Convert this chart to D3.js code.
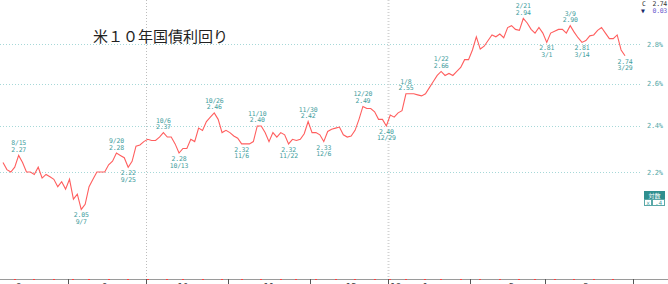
<!DOCTYPE html>
<html>
<head>
<meta charset="utf-8">
<script src="https://cdn.jsdelivr.net/npm/d3@7"></script>
<style>
  body { margin: 0; background: #fff; }
  svg { display: block; }
</style>
</head>
<body>
<div id="chart"></div>
<script>
// trading days shown on the chart (Aug 2017 - Mar 2018)
var dates = [
  "2017-08-09","2017-08-10","2017-08-11","2017-08-14","2017-08-15","2017-08-16","2017-08-17","2017-08-18",
  "2017-08-21","2017-08-22","2017-08-23","2017-08-24","2017-08-25","2017-08-28","2017-08-29","2017-08-30","2017-08-31",
  "2017-09-01","2017-09-05","2017-09-06","2017-09-07","2017-09-08","2017-09-11","2017-09-12","2017-09-13","2017-09-14",
  "2017-09-15","2017-09-18","2017-09-19","2017-09-20","2017-09-21","2017-09-22","2017-09-25","2017-09-26","2017-09-27",
  "2017-09-28","2017-09-29",
  "2017-10-02","2017-10-03","2017-10-04","2017-10-05","2017-10-06","2017-10-10","2017-10-11","2017-10-12","2017-10-13",
  "2017-10-16","2017-10-17","2017-10-18","2017-10-19","2017-10-20","2017-10-23","2017-10-24","2017-10-25","2017-10-26",
  "2017-10-27","2017-10-30","2017-10-31",
  "2017-11-01","2017-11-02","2017-11-03","2017-11-06","2017-11-07","2017-11-08","2017-11-09","2017-11-10","2017-11-13",
  "2017-11-14","2017-11-15","2017-11-16","2017-11-17","2017-11-20","2017-11-21","2017-11-22","2017-11-24","2017-11-27",
  "2017-11-28","2017-11-29","2017-11-30",
  "2017-12-01","2017-12-04","2017-12-05","2017-12-06","2017-12-07","2017-12-08","2017-12-11","2017-12-12","2017-12-13",
  "2017-12-14","2017-12-15","2017-12-18","2017-12-19","2017-12-20","2017-12-21","2017-12-22","2017-12-26","2017-12-27",
  "2017-12-28","2017-12-29",
  "2018-01-02","2018-01-03","2018-01-04","2018-01-05","2018-01-08","2018-01-09","2018-01-10","2018-01-11","2018-01-12",
  "2018-01-16","2018-01-17","2018-01-18","2018-01-19","2018-01-22","2018-01-23","2018-01-24","2018-01-25","2018-01-26",
  "2018-01-29","2018-01-30","2018-01-31",
  "2018-02-01","2018-02-02","2018-02-05","2018-02-06","2018-02-07","2018-02-08","2018-02-09","2018-02-12","2018-02-13",
  "2018-02-14","2018-02-15","2018-02-16","2018-02-20","2018-02-21","2018-02-22","2018-02-23","2018-02-26","2018-02-27",
  "2018-02-28",
  "2018-03-01","2018-03-02","2018-03-05","2018-03-06","2018-03-07","2018-03-08","2018-03-09","2018-03-12","2018-03-13",
  "2018-03-14","2018-03-15","2018-03-16","2018-03-19","2018-03-20","2018-03-21","2018-03-22","2018-03-23","2018-03-26",
  "2018-03-27","2018-03-28","2018-03-29"
];

// US 10y yield (%)
var yields = [
  2.24, 2.21, 2.20, 2.22, 2.27, 2.24, 2.20, 2.20, 2.19, 2.22, 2.175, 2.19, 2.18, 2.17, 2.14, 2.16, 2.13,
  2.17, 2.09, 2.11, 2.05, 2.07, 2.14, 2.17, 2.20, 2.20, 2.20, 2.23, 2.245, 2.28, 2.27, 2.26, 2.22, 2.245, 2.31, 2.315, 2.33,
  2.34, 2.335, 2.335, 2.35, 2.37, 2.35, 2.35, 2.32, 2.28, 2.30, 2.30, 2.34, 2.33, 2.39, 2.38, 2.42, 2.44, 2.46, 2.43, 2.37, 2.38,
  2.37, 2.355, 2.345, 2.32, 2.32, 2.32, 2.33, 2.40, 2.40, 2.37, 2.33, 2.37, 2.35, 2.37, 2.36, 2.32, 2.34, 2.335, 2.34, 2.365, 2.42,
  2.37, 2.37, 2.36, 2.33, 2.375, 2.385, 2.39, 2.395, 2.36, 2.35, 2.355, 2.38, 2.43, 2.49, 2.48, 2.48, 2.465, 2.43, 2.43, 2.40,
  2.45, 2.44, 2.46, 2.47, 2.55, 2.55, 2.55, 2.545, 2.54, 2.55, 2.58, 2.61, 2.64, 2.66, 2.64, 2.65, 2.64, 2.66, 2.68, 2.72, 2.72,
  2.77, 2.84, 2.775, 2.79, 2.82, 2.85, 2.84, 2.855, 2.835, 2.89, 2.90, 2.88, 2.875, 2.94, 2.915, 2.88, 2.86, 2.89, 2.86,
  2.81, 2.86, 2.87, 2.88, 2.88, 2.86, 2.90, 2.865, 2.835, 2.81, 2.82, 2.845, 2.85, 2.875, 2.89, 2.86, 2.83, 2.83, 2.85, 2.77, 2.74
];

var yTicks = [2.2, 2.4, 2.6, 2.8];

// highs and lows annotated on the chart
var peakDates = ["2017-08-15", "2017-09-20", "2017-10-06", "2017-10-26", "2017-11-10", "2017-11-30",
                 "2017-12-20", "2018-01-08", "2018-01-22", "2018-02-21", "2018-03-09"];
var lowDates = ["2017-09-07", "2017-09-25", "2017-10-13", "2017-11-06", "2017-11-22", "2017-12-06",
                "2017-12-29", "2018-03-01", "2018-03-14", "2018-03-29"];

var title = "米１０年国債利回り";

var width = 668, height = 284;
var axisY = 279, gridRight = 640;
var teal = "#3f9e9e";
var mono = "'DejaVu Sans Mono', monospace";

var svg = d3.select("#chart").append("svg")
    .attr("width", width)
    .attr("height", height);

var parse = d3.timeParse("%Y-%m-%d");
var days = dates.map(parse);

var x = d3.scaleLinear().domain([0, dates.length - 1]).range([3, 625]);
var y = d3.scaleLog().domain([2.2, 2.8]).range([172, 44.3]);

// horizontal grid + right labels
yTicks.forEach(function (t) {
    svg.append("line")
        .attr("x1", 0).attr("x2", gridRight)
        .attr("y1", Math.round(y(t)) + 0.5).attr("y2", Math.round(y(t)) + 0.5)
        .attr("stroke", "#a6d8d8")
        .attr("stroke-dasharray", "1,2");
    svg.append("text")
        .attr("x", 647).attr("y", y(t) + 2.5)
        .attr("fill", "#55a8a8")
        .style("font", "7px " + mono)
        .style("letter-spacing", "-0.3px")
        .text(t.toFixed(1) + "%");
});

// month starts
var monthStarts = [];
days.forEach(function (d, i) {
    if (i > 0 && d.getMonth() !== days[i - 1].getMonth()) monthStarts.push(i);
});

// quarter lines (Oct, Jan)
monthStarts.filter(function (i) { return days[i].getMonth() % 3 === 0; }).forEach(function (i) {
    var xx = Math.round(x(i - 0.5)) + 0.5;
    var isYear = days[i].getMonth() === 0;
    svg.append("line")
        .attr("x1", xx).attr("x2", xx)
        .attr("y1", 0).attr("y2", axisY)
        .attr("stroke", isYear ? "#d4d4d4" : "#bdbdbd")
        .attr("stroke-width", isYear ? 2 : 1)
        .attr("stroke-dasharray", "1,2");
});

// bottom axis line
svg.append("line")
    .attr("x1", 0).attr("x2", width)
    .attr("y1", axisY + 0.5).attr("y2", axisY + 0.5)
    .attr("stroke", "#9a9a9a");

// month boundary ticks
monthStarts.concat([dates.length + 1.5]).forEach(function (i) {
    var xx = Math.round(x(i - 0.5)) + 0.5;
    svg.append("line")
        .attr("x1", xx).attr("x2", xx)
        .attr("y1", axisY).attr("y2", height)
        .attr("stroke", "#555");
});

// week start dots on axis
days.forEach(function (d, i) {
    if (i === 0) return;
    if (d3.timeMonday.floor(d).getTime() !== d3.timeMonday.floor(days[i - 1]).getTime()) {
        svg.append("rect")
            .attr("x", Math.round(x(i)) - 1).attr("y", axisY)
            .attr("width", 2).attr("height", 1)
            .attr("fill", "#ff4040");
    }
});

// month labels (mostly clipped by the bottom edge, as in the original)
var monthLabelIdx = [];
days.forEach(function (d, i) {
    if (d.getDate() >= 15 && (i === 0 || days[i - 1].getDate() < 15 || days[i - 1].getMonth() !== d.getMonth())) {
        monthLabelIdx.push(i);
    }
});
monthLabelIdx.forEach(function (i) {
    svg.append("text")
        .attr("x", x(i)).attr("y", 290)
        .attr("text-anchor", "middle")
        .attr("fill", "#444")
        .style("font", "9px " + mono)
        .text(days[i].getMonth() + 1);
});
monthStarts.filter(function (i) { return days[i].getMonth() === 0; }).forEach(function (i) {
    svg.append("text")
        .attr("x", x(i - 0.5) + 2).attr("y", 290)
        .attr("fill", "#444")
        .style("font", "9px " + mono)
        .text(d3.timeFormat("%y")(days[i]));
});

// the yield line
var line = d3.line()
    .x(function (d, i) { return x(i); })
    .y(function (d) { return y(d); });

svg.append("path")
    .datum(yields)
    .attr("fill", "none")
    .attr("stroke", "#ff5e5e")
    .attr("stroke-width", 1.1)
    .attr("d", line);

// annotations
var md = d3.timeFormat("%-m/%-d");
function note(dateStr, above) {
    var i = dates.indexOf(dateStr);
    var px = x(i), py = y(yields[i]);
    var lines = above ? [md(days[i]), yields[i].toFixed(2)] : [yields[i].toFixed(2), md(days[i])];
    var base = above ? py - 10 : py + 8;
    lines.forEach(function (s, k) {
        svg.append("text")
            .attr("x", px).attr("y", base + k * 6.5)
            .attr("text-anchor", "middle")
            .attr("fill", teal)
            .style("font", "6.5px " + mono)
            .style("letter-spacing", "-0.2px")
            .text(s);
    });
}
peakDates.forEach(function (d) { note(d, true); });
lowDates.forEach(function (d) { note(d, false); });

// title
svg.append("text")
    .attr("x", 93).attr("y", 42)
    .attr("fill", "#222")
    .style("font", "15px 'Noto Sans CJK JP', sans-serif")
    .text(title);

// last value box, top right
var last = yields[yields.length - 1];
var change = last - yields[yields.length - 2];
svg.append("text").attr("x", 642).attr("y", 5.5)
    .attr("fill", "#333").style("font", "6.5px " + mono).text("C");
svg.append("text").attr("x", 667).attr("y", 5.5).attr("text-anchor", "end")
    .attr("fill", "#333").style("font", "6.5px " + mono).style("letter-spacing", "-0.3px")
    .text(last.toFixed(2));
svg.append("text").attr("x", 641).attr("y", 12.5)
    .attr("fill", "#1a2a6a").style("font", "6.5px " + mono).text(change < 0 ? "▼" : "▲");
svg.append("text").attr("x", 667).attr("y", 12.5).attr("text-anchor", "end")
    .attr("fill", "#6a5acd").style("font", "6.5px " + mono).style("letter-spacing", "-0.3px")
    .text(Math.abs(change).toFixed(2));

// log-scale badge
svg.append("rect").attr("x", 644.5).attr("y", 191.5).attr("width", 20).attr("height", 7)
    .attr("fill", "#2f8f8f").attr("stroke", "#2f8f8f");
svg.append("text").attr("x", 654.5).attr("y", 197.5).attr("text-anchor", "middle")
    .attr("fill", "#fff").style("font", "6px 'Noto Sans CJK JP', sans-serif").text("対数");
svg.append("rect").attr("x", 644.5).attr("y", 199.5).attr("width", 7).attr("height", 6)
    .attr("fill", "#fff").attr("stroke", "#5aa8a8");
svg.append("rect").attr("x", 652.5).attr("y", 199.5).attr("width", 12).attr("height", 6)
    .attr("fill", "#fff").attr("stroke", "#5aa8a8");
svg.append("text").attr("x", 648).attr("y", 204.5).attr("text-anchor", "middle")
    .attr("fill", teal).style("font", "6px " + mono).text("x");
svg.append("text").attr("x", 658.5).attr("y", 204.5).attr("text-anchor", "middle")
    .attr("fill", teal).style("font", "6px " + mono).text(".4");
</script>
</body>
</html>
